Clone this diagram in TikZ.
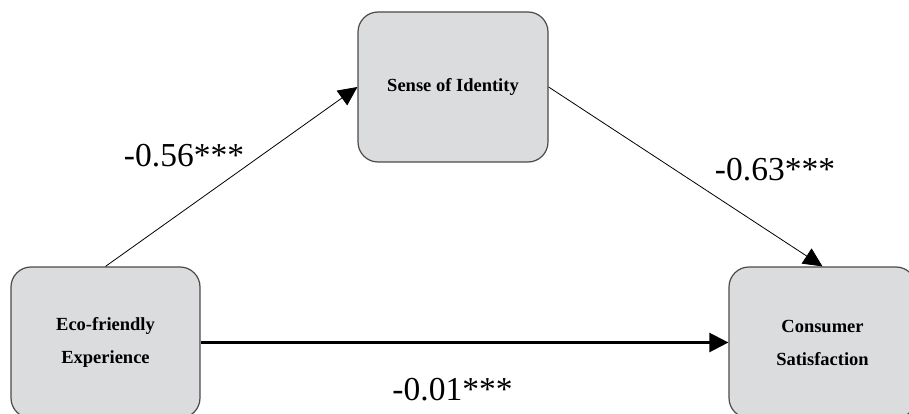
\documentclass[tikz,border=0pt]{standalone}
\usepackage{fontspec}
\setmainfont{Liberation Serif}
\usetikzlibrary{arrows.meta}
\definecolor{boxfill}{HTML}{DBDCDE}
\definecolor{boxline}{HTML}{4A4A4A}
\tikzset{
  varbox/.style={draw=boxline, line width=1.2pt, fill=boxfill, rounded corners=20pt,
    inner sep=0pt, align=center, font=\fontsize{18.5}{33}\selectfont\bfseries},
  path/.style={draw=black, line width=0.8pt, -{Triangle[length=19pt,width=18pt]}},
  mainpath/.style={draw=black, line width=2.4pt, -{Triangle[length=19pt,width=19pt]}},
  coef/.style={anchor=base, inner sep=0pt, font=\fontsize{33.5}{36}\selectfont}
}
\begin{document}
\begin{tikzpicture}[x=1pt, y=-1pt]
  \useasboundingbox (0,0) rectangle (909,414);
  \clip (0,0) rectangle (909,414);
  % variables
  \node[varbox, minimum width=190pt, minimum height=150pt] (ident) at (453,87) {Sense of Identity};
  \node[varbox, minimum width=189pt, minimum height=151pt] (eco) at (105.5,342.5) {Eco-friendly\\Experience};
  \node[varbox, minimum width=187pt, minimum height=151pt] (sat) at (822.5,342.5) {Consumer\\Satisfaction};
  % paths
  \draw[path] (eco.north) -- (ident.west);
  \draw[path] (ident.east) -- (sat.north);
  \draw[mainpath] (eco.east) -- (sat.west);
  % coefficients
  \node[coef] (c1) at (184,167) {-0.56***};
  \node[coef] (c2) at (775,180) {-0.63***};
  \node[coef] (c3) at (452.5,400) {-0.01***};
\end{tikzpicture}
\end{document}
